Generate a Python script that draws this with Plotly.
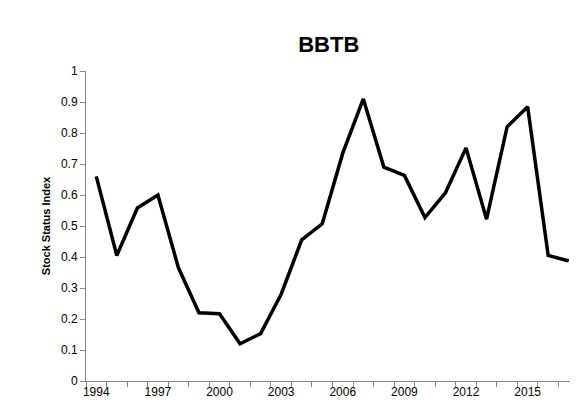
import plotly.graph_objects as go

years = list(range(1994, 2018))
ssi = [0.66, 0.405, 0.558, 0.60, 0.365, 0.22, 0.217, 0.12, 0.153, 0.28, 0.455, 0.507,
       0.735, 0.91, 0.69, 0.663, 0.527, 0.607, 0.752, 0.522, 0.82, 0.885, 0.405, 0.387]
label_years = list(range(1994, 2018, 3))
y_ticks = [round(i * 0.1, 1) for i in range(11)]

fig = go.Figure(go.Scatter(x=years, y=ssi, mode="lines",
                           line=dict(color="black", width=3.5), showlegend=False))
fig.update_layout(
    width=578, height=414,
    paper_bgcolor="white", plot_bgcolor="white",
    font=dict(family="Liberation Sans, Arial", color="black", size=12),
    title=dict(text="<b>BBTB</b>", x=0.555, xanchor="center", y=0.93, font=dict(size=22)),
    margin=dict(l=78, r=7, t=63, b=41),
)
fig.update_xaxes(range=[1993.5, 2017.5], tickvals=label_years, ticks="",
                 showgrid=False, zeroline=False, showline=True, linecolor="#888", linewidth=1,
                 minor=dict(ticks="outside", tick0=1993.5, dtick=1, ticklen=5, tickcolor="#888"),
                 tickfont=dict(size=12))
fig.update_yaxes(range=[0, 1], tickvals=y_ticks, ticktext=[f"{v:g}" for v in y_ticks],
                 ticks="outside", ticklen=5, tickcolor="#888", showgrid=False, zeroline=False,
                 showline=True, linecolor="#888", linewidth=1,
                 title=dict(text="<b>Stock Status Index</b>", font=dict(size=11), standoff=8))
fig.write_html("out.html")
